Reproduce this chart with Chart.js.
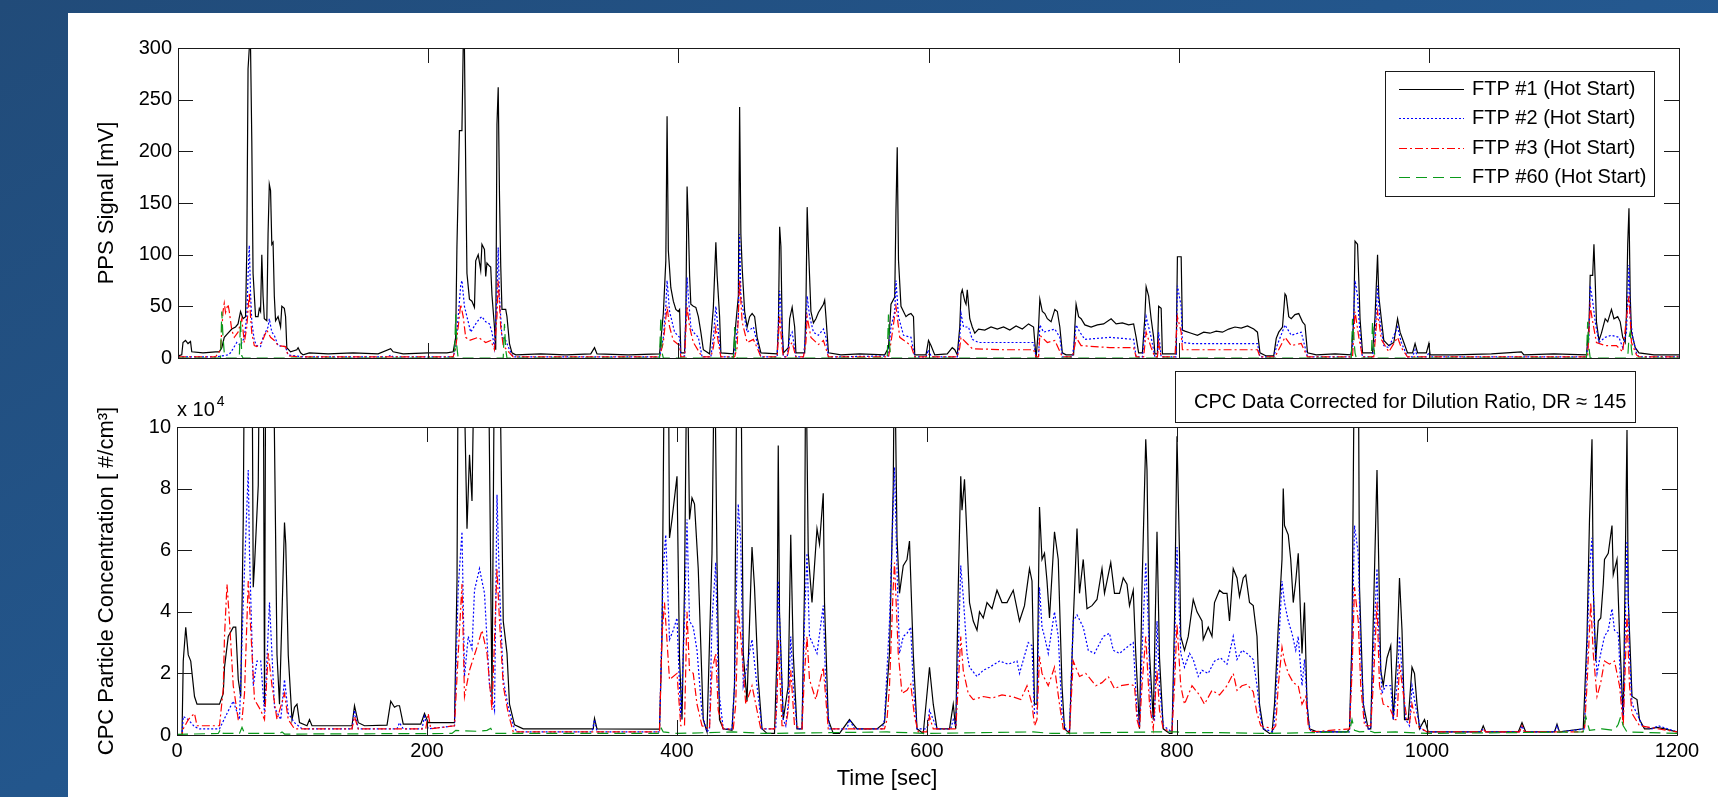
<!DOCTYPE html>
<html>
<head>
<meta charset="utf-8">
<script src="https://cdn.jsdelivr.net/npm/chart.js@4.4.1/dist/chart.umd.min.js"></script>
<style>
  html, body { margin: 0; padding: 0; }
  body {
    width: 1718px; height: 797px; overflow: hidden; position: relative;
    background: linear-gradient(150deg, #214b79 0%, #23568c 45%, #2a63a0 100%);
  }
  #panel { position: absolute; left: 68px; top: 13px; right: 0; bottom: 0; background: #fff; }
  canvas { position: absolute; left: 0; }
  #ppsChart { top: 0; }
  #cpcChart { top: 360px; }
</style>
</head>
<body>
<div id="panel"></div>
<canvas id="ppsChart" width="1718" height="380"></canvas>
<canvas id="cpcChart" width="1718" height="437"></canvas>
<script>
// tick values
const timeTicks = [0, 200, 400, 600, 800, 1000, 1200];
const ppsTicks = [0, 50, 100, 150, 200, 250, 300];
const cpcTicks = [0, 2, 4, 6, 8, 10];

const seriesLabels = ['FTP #1 (Hot Start)', 'FTP #2 (Hot Start)', 'FTP #3 (Hot Start)', 'FTP #60 (Hot Start)'];

// PPS signal [mV], pairs of [time s, value]
const ppsFtp1 = [[0,2],[3,3],[4,15],[6,17],[8,14],[10,16],[11,6],[20,5],[30,6],[33,6],[35,10],[37,20],[40,24],[43,28],[46,30],[48,33],[50,45],[52,38],[54,40],[55,105],[56,280],[57,300],[58,300],[59,210],[60,82],[62,40],[64,40],[65,48],[66,45],[67,100],[68,60],[69,38],[71,36],[72,120],[73,168],[74,162],[75,110],[76,112],[77,60],[78,36],[80,40],[82,30],[83,50],[85,48],[86,40],[87,10],[90,6],[95,8],[96,10],[98,5],
  [100,3],[105,5],[120,4],[140,5],[160,4],[170,9],[172,6],[180,4],[200,5],[215,5],[220,6],[222,20],[223,108],[225,220],[227,220],[228,300],[229,300],[230,185],[231,82],[233,57],[235,55],[237,49],[238,94],[240,100],[242,85],[243,110],[245,105],[246,79],[247,92],[249,89],[250,88],[251,61],[253,30],[254,8],[255,226],[256,262],[257,159],[258,90],[259,47],[262,47],[263,40],[265,14],[267,5],[270,3],
  [290,4],[310,3],[330,4],[333,10],[335,4],[360,3],[385,4],[388,43],[390,94],[391,234],[392,104],[394,68],[396,55],[398,47],[400,45],[401,47],[402,5],[405,5],[406,40],[407,166],[408,130],[409,80],[410,52],[412,50],[414,49],[416,40],[418,25],[420,8],[425,4],[428,49],[430,112],[431,80],[433,40],[434,5],[444,4],[446,34],[448,60],[449,243],[450,120],[451,88],[453,45],[455,30],[457,40],[459,43],[461,40],[463,20],[466,5],[479,4],[480,30],[481,127],[482,108],[483,30],[484,5],[488,10],[489,38],[491,49],[493,30],[494,5],[501,5],[502,49],[503,146],[504,108],[506,45],[508,34],[510,38],[512,44],[514,48],[516,52],[517,56],[518,40],[520,5],
  [530,3],[545,4],[565,3],[568,10],[570,52],[573,59],[574,143],[575,204],[576,95],[578,50],[580,45],[582,40],[584,42],[586,43],[588,40],[589,3],[598,3],[600,17],[602,12],[605,3],[615,4],[619,10],[621,8],[623,3],[625,30],[626,62],[627,66],[629,55],[630,52],[631,66],[633,38],[635,30],[637,24],[640,28],[645,27],[650,30],[655,28],[660,30],[665,27],[670,31],[675,28],[680,33],[684,30],[686,0],[688,30],[689,57],[691,45],[693,43],[695,38],[698,35],[701,47],[703,45],[705,30],[707,5],[710,3],[716,3],[717,30],[718,52],[720,40],[722,38],[725,32],[730,30],[735,32],[740,33],[746,38],[750,33],[755,34],[760,32],[764,33],[766,20],[768,5],[771,5],[773,40],[774,69],[776,60],[778,38],[780,20],[781,4],[783,4],[784,50],[786,48],[787,4],[798,4],[799,98],[802,98],[803,27],[805,26],[810,24],[815,22],[820,25],[825,24],[830,26],[835,25],[840,28],[845,30],[850,29],[855,31],[860,28],[863,25],[865,5],[870,2],[876,2],[878,19],[880,25],[883,30],[885,62],[886,60],[888,40],[890,38],[893,42],[896,43],[899,35],[901,32],[903,5],
  [910,3],[925,4],[938,3],[940,38],[941,113],[943,110],[944,76],[945,38],[947,5],[955,5],[957,40],[959,100],[960,60],[962,38],[964,17],[968,12],[972,15],[975,38],[977,25],[980,15],[983,5],[987,5],[989,14],[991,5],[998,5],[1000,14],[1001,3],
  [1020,3],[1050,4],[1074,6],[1076,3],[1100,4],[1126,3],[1128,30],[1129,80],[1131,80],[1132,110],[1133,75],[1134,35],[1136,17],[1138,24],[1141,38],[1143,35],[1146,47],[1148,38],[1151,40],[1153,35],[1155,20],[1157,15],[1158,43],[1159,110],[1160,145],[1161,60],[1162,25],[1165,10],[1168,5],[1180,3],[1200,3]];

const ppsFtp2 = [[0,1],[30,1],[40,3],[42,5],[47,15],[50,12],[53,20],[55,40],[56,80],[57,109],[58,62],[59,35],[61,17],[63,12],[66,11],[68,20],[72,30],[73,38],[75,25],[77,22],[80,12],[86,11],[88,3],[100,1],[168,1],[170,3],[172,1],[220,1],[222,10],[224,40],[226,70],[227,75],[229,50],[231,40],[234,25],[238,33],[241,38],[243,40],[246,35],[249,33],[251,25],[253,10],[255,60],[256,107],[257,60],[259,20],[262,17],[265,8],[268,1],
  [385,1],[388,20],[390,50],[391,75],[393,45],[394,40],[397,25],[401,20],[402,1],[405,2],[407,78],[408,60],[410,30],[412,25],[416,20],[419,1],[426,1],[428,20],[430,50],[432,25],[434,1],[444,1],[446,15],[448,40],[449,120],[450,60],[452,45],[455,25],[460,30],[463,15],[466,1],[479,1],[481,65],[482,50],[484,1],[487,1],[489,20],[491,25],[494,1],[500,1],[502,25],[503,60],[505,40],[508,25],[512,22],[516,28],[518,20],[520,1],
  [568,2],[570,30],[573,45],[574,75],[576,40],[580,22],[586,20],[589,1],[598,1],[600,8],[602,2],[604,1],[623,1],[625,20],[626,43],[628,30],[632,30],[635,18],[640,15],[660,15],[684,15],[686,1],[688,1],[689,32],[692,25],[701,28],[705,20],[707,1],[715,1],[717,20],[718,32],[721,25],[725,18],[745,20],[764,18],[766,1],[771,1],[773,25],[774,40],[778,20],[781,1],[783,1],[784,25],[786,1],[798,1],[799,70],[802,50],[803,15],[810,14],[840,14],[863,14],[865,1],[876,1],[878,10],[885,32],[890,22],[898,25],[903,1],
  [937,1],[939,10],[941,75],[943,60],[944,40],[946,8],[947,1],[955,1],[957,20],[959,70],[961,35],[964,12],[968,10],[975,30],[978,15],[983,1],[987,1],[989,8],[991,1],[998,1],[1000,5],[1001,1],[1126,1],[1128,20],[1129,70],[1131,55],[1133,35],[1136,15],[1141,20],[1146,22],[1152,20],[1155,10],[1158,25],[1160,90],[1161,40],[1163,20],[1166,5],[1168,1],[1200,1]];

const ppsFtp3 = [[0,1],[30,1],[34,8],[36,45],[37,53],[38,44],[40,52],[41,45],[43,27],[45,20],[48,25],[51,38],[53,15],[55,30],[57,63],[58,40],[59,24],[61,12],[63,11],[67,15],[71,27],[74,20],[77,17],[80,12],[86,11],[88,2],[100,1],[220,1],[222,10],[224,30],[226,52],[228,40],[230,20],[233,17],[240,20],[246,15],[250,17],[253,8],[255,40],[256,75],[258,30],[260,12],[265,5],[268,1],
  [385,1],[388,15],[391,50],[393,30],[396,17],[401,12],[402,1],[405,1],[407,50],[409,30],[412,15],[419,1],[426,1],[428,10],[430,30],[432,15],[434,1],[445,1],[447,10],[449,75],[451,35],[455,15],[460,18],[463,10],[466,1],[479,1],[481,40],[483,10],[484,1],[487,1],[489,12],[491,15],[494,1],[500,1],[502,15],[503,40],[506,20],[512,13],[516,17],[520,1],
  [568,1],[570,15],[574,50],[577,20],[586,12],[589,1],[598,1],[600,4],[602,1],[623,1],[625,10],[626,20],[630,15],[635,9],[660,8],[684,8],[686,1],[688,1],[689,22],[695,15],[701,17],[707,1],[715,1],[717,12],[718,20],[722,12],[745,10],[764,10],[766,1],[772,1],[774,25],[778,10],[781,1],[783,1],[784,15],[786,1],[797,1],[799,40],[802,25],[803,8],[840,8],[863,8],[865,1],[877,1],[885,20],[890,12],[898,14],[903,1],
  [939,1],[941,45],[944,20],[947,1],[956,1],[959,45],[962,18],[968,6],[975,20],[978,10],[983,1],[1127,1],[1129,50],[1131,35],[1134,15],[1141,12],[1150,12],[1155,6],[1160,60],[1162,15],[1166,3],[1168,1],[1200,1]];

const ppsFtp60 = [[0,0],[34,0],[35,45],[36,20],[37,5],[38,0],[49,0],[50,36],[51,2],[52,0],[221,0],[222,42],[223,10],[224,0],[260,0],[261,33],[262,8],[263,0],[385,0],[386,40],[387,5],[388,0],[444,0],[445,30],[446,3],[447,0],[567,0],[568,42],[569,10],[570,0],[938,0],[939,38],[940,20],[941,5],[942,0],[954,0],[955,35],[956,10],[957,0],[1126,0],[1127,35],[1128,10],[1129,0],[1159,0],[1160,20],[1161,25],[1162,8],[1163,0],[1200,0]];

// CPC concentration in units of 10^4 #/cm3 (values above 10 run off the top)
const cpcFtp1 = [[0,0],[4,0],[5,2.4],[7,3.5],[9,2.6],[11,2.4],[14,1.25],[16,1.0],[25,1.0],[34,1.0],[37,1.35],[38,2.2],[41,3.2],[45,3.5],[47,3.5],[49,1.8],[51,1.25],[53,7],[54,13],[60,13],[61,4.8],[62,5.5],[65,8.1],[66,13],[69,13],[70,1.0],[71,13],[77,13],[80,2.6],[82,1.0],[86,6.9],[87,6.2],[89,2.6],[92,0.5],[94,0.9],[96,1.0],[98,0.4],[104,0.3],[106,0.5],[108,0.3],[140,0.3],[142,0.95],[145,0.4],[150,0.3],[168,0.32],[171,1.1],[174,0.9],[176,0.95],[178,0.95],[181,0.35],[195,0.35],[198,0.7],[201,0.4],[222,0.4],[224,5],[225,13],[229,13],[232,6.7],[234,9.1],[236,7.6],[238,13],[249,13],[252,1.15],[254,13],[258,13],[261,3.7],[264,2.65],[266,1.0],[270,0.33],[277,0.2],[333,0.2],[334,0.54],[336,0.2],
  [386,0.19],[388,3.2],[390,13],[393,13],[394,6.4],[396,7],[400,8.4],[402,2.5],[404,0.5],[406,4.8],[408,13],[410,7],[412,7.7],[414,7.5],[417,5.4],[421,0.5],[424,0.1],[428,5.9],[430,13],[432,5.6],[434,0.5],[437,0.2],[444,0.15],[446,1.6],[448,13],[451,13],[453,2.65],[456,1.1],[460,6.1],[462,4.8],[465,1.8],[468,0.2],[472,0.05],[478,0.05],[480,2.65],[481,9.4],[482,4.0],[485,0.5],[489,1.6],[491,6.5],[493,2.65],[496,0.2],[500,0.2],[502,4.8],[503,13],[505,5.9],[508,4.3],[512,6.7],[514,6.2],[517,7.85],[518,4.3],[521,0.5],[525,0.05],[530,0.05],[538,0.5],[544,0.2],[560,0.2],[566,0.4],
  [570,2.65],[573,8.1],[574,13],[576,6.4],[578,4.6],[581,5.5],[584,5.7],[586,6.3],[589,2.65],[592,0.2],[597,0.05],[602,2.2],[605,1.0],[608,0.2],[618,0.2],[621,1.0],[623,0.2],[625,4.8],[627,8.4],[628,7.3],[630,8.3],[632,6.4],[634,4.3],[637,3.7],[640,3.4],[642,4.0],[645,3.8],[648,4.3],[652,4.1],[656,4.7],[660,4.3],[664,4.3],[669,4.7],[674,3.7],[678,4.2],[682,5.4],[684,5.0],[686,1.0],[688,1.0],[690,7.4],[692,5.7],[694,5.9],[696,5.0],[698,3.8],[702,6.6],[705,5.7],[708,1.6],[710,0.2],[714,0.05],[717,3.7],[720,6.7],[722,4.6],[725,5.7],[728,4.1],[732,4.2],[736,4.4],[740,5.4],[742,4.6],[747,5.6],[750,4.6],[754,4.6],[757,5.1],[760,4.9],[762,4.2],[765,4.7],[767,2.65],[770,0.2],[772,4.8],[775,9.6],[776,8.6],[778,2.65],[781,0.5],[784,6.6],[786,2.5],[789,0.2],[794,0.05],[796,0.05],
  [798,3.7],[800,9.7],[802,5.9],[803,3.2],[806,2.75],[809,3.2],[813,4.4],[816,4.0],[820,3.7],[821,3.1],[825,3.5],[828,3.2],[830,4.3],[834,4.7],[837,4.6],[840,4.6],[842,3.7],[845,5.4],[848,5.1],[850,4.5],[853,5.1],[855,5.2],[858,4.3],[861,4.2],[864,3.2],[866,1.0],[869,0.2],[874,0.05],[876,0.05],[878,1.0],[881,3.5],[884,5.7],[885,8.0],[886,6.8],[889,6.5],[891,5.7],[893,4.3],[895,5.0],[897,5.9],[900,2.65],[902,4.3],[904,1.0],[906,0.2],[912,0.1],[936,0.1],[938,0.2],[940,3.2],[942,13],[945,13],[946,4.8],[949,1.0],[953,0.2],[955,0.2],[957,3.7],[960,8.6],[961,6.4],[963,2.1],[965,1.6],[968,2.5],[971,2.9],[973,0.5],[976,2.65],[978,5.1],[980,3.4],[982,0.5],[985,0.5],[988,2.2],[990,2.0],[992,1.0],[994,0.2],[998,0.5],[1001,0.1],
  [1043,0.1],[1045,0.3],[1047,0.1],[1073,0.1],[1076,0.4],[1079,0.1],[1102,0.1],[1104,0.35],[1106,0.1],[1125,0.2],[1128,3.2],[1130,7],[1132,9.6],[1133,4.8],[1135,2.4],[1137,3.7],[1139,3.8],[1141,4.9],[1142,5.7],[1145,5.9],[1148,6.8],[1149,5.2],[1152,5.7],[1154,3.3],[1157,0.5],[1160,9.9],[1161,4.4],[1164,1.25],[1168,1.15],[1170,0.5],[1174,0.2],[1178,0.2],[1184,0.25],[1190,0.2],[1200,0.1]];

const cpcFtp2 = [[0,0],[4,0],[5,0.6],[9,0.5],[14,0.27],[18,0.2],[34,0.2],[40,0.7],[45,1.1],[50,0.5],[53,4.3],[57,8.6],[58,5.9],[61,1.6],[64,2.4],[67,2.4],[70,0.7],[74,4.3],[76,2.6],[78,0.9],[83,0.5],[86,1.8],[89,0.7],[94,0.4],[100,0.2],[140,0.2],[142,0.8],[145,0.2],[176,0.2],[178,0.4],[181,0.2],[196,0.2],[198,0.6],[201,0.2],[222,0.3],[225,4.8],[228,6.6],[230,1.9],[233,3.2],[236,2.8],[238,4.7],[242,5.4],[246,4.6],[250,1.6],[254,0.8],[256,7.8],[258,4.8],[261,1.8],[265,0.9],[269,0.3],[272,0.1],[332,0.1],[334,0.5],[336,0.1],
  [386,0.1],[389,5.4],[391,6.5],[394,3.1],[397,3.4],[400,3.8],[403,0.5],[406,3.7],[408,7],[410,3.7],[413,3.5],[416,2.75],[420,0.7],[424,0.1],[426,0.2],[428,3.7],[431,5.6],[433,1.6],[437,0.2],[444,0.2],[446,1.6],[449,7.5],[451,6.3],[453,1.6],[460,3.1],[464,1.6],[468,0.2],[479,0.2],[480,1.6],[481,5.0],[483,2.65],[485,0.5],[487,0.3],[489,1.0],[491,3.2],[493,1.6],[496,0.2],[500,0.2],[502,3.7],[504,5.9],[506,3.2],[512,2.65],[517,4.2],[519,1.6],[522,0.2],[536,0.2],[538,0.5],[542,0.2],[564,0.2],[566,0.5],
  [570,3.7],[573,7.5],[574,8.7],[576,5.4],[578,2.65],[581,3.2],[584,3.3],[587,3.5],[589,1.6],[592,0.2],[600,0.2],[602,0.8],[605,0.5],[608,0.2],[619,0.2],[621,0.5],[623,0.3],[625,2.65],[627,5.5],[629,4.5],[632,2.65],[634,2.2],[640,1.9],[645,2.1],[650,2.2],[658,2.4],[665,2.3],[672,2.4],[674,2.0],[681,3.0],[684,2.9],[686,0.7],[688,0.7],[690,4.8],[692,3.5],[694,3.2],[697,2.65],[702,4.0],[705,3.2],[708,0.7],[711,0.2],[714,0.1],[717,3.7],[720,3.9],[725,3.5],[729,2.75],[734,2.65],[741,3.2],[746,3.3],[749,2.75],[754,2.65],[760,2.85],[765,3.0],[768,0.7],[770,0.3],[772,2.65],[775,5.6],[777,3.7],[779,0.7],[782,0.5],[784,3.7],[786,1.6],[789,0.3],[796,0.1],
  [798,2.65],[800,6.1],[803,2.65],[806,2.2],[810,2.65],[813,2.45],[817,1.9],[820,2.1],[825,2.0],[830,2.4],[835,2.5],[840,2.3],[845,3.2],[848,2.45],[852,2.75],[856,2.65],[861,2.45],[864,1.6],[867,0.5],[869,0.2],[877,0.1],[878,0.5],[881,2.65],[884,5.0],[886,4.3],[889,3.7],[892,3.3],[895,2.75],[897,3.2],[900,1.6],[902,2.45],[905,0.5],[907,0.1],[938,0.1],[940,2.65],[942,6.8],[945,5.9],[947,2.65],[950,0.5],[953,0.2],[955,0.2],[957,2.65],[960,5.4],[961,3.7],[964,1.35],[967,1.6],[971,1.6],[973,0.5],[976,1.6],[978,3.2],[980,2.1],[983,0.5],[986,0.3],[988,1.6],[992,0.7],[995,0.2],[1000,0.1],
  [1043,0.1],[1045,0.2],[1047,0.1],[1074,0.1],[1076,0.3],[1078,0.1],[1102,0.1],[1104,0.3],[1106,0.1],[1126,0.2],[1128,2.65],[1130,5.4],[1132,6.4],[1134,3.3],[1136,2.0],[1139,2.65],[1142,3.2],[1145,3.4],[1148,4.1],[1150,3.4],[1153,3.3],[1155,1.6],[1157,0.5],[1160,6.3],[1162,2.65],[1164,1.0],[1168,0.7],[1172,0.3],[1180,0.2],[1185,0.3],[1200,0.1]];

const cpcFtp3 = [[0,0],[4,0],[5,0.2],[9,0.5],[14,0.7],[16,0.3],[34,0.3],[37,1.5],[38,3.2],[40,4.9],[42,3.7],[45,1.6],[49,0.5],[52,0.5],[54,1.35],[57,5.0],[60,2.65],[62,1.15],[67,0.8],[70,0.5],[73,2.65],[76,1.6],[80,0.5],[86,1.35],[89,0.5],[94,0.2],[140,0.2],[142,0.6],[145,0.2],[199,0.2],[201,0.7],[203,0.2],[222,0.3],[225,2.65],[228,4.9],[230,1.25],[234,2.1],[240,2.85],[244,3.4],[248,2.65],[252,0.8],[256,5.4],[258,3.7],[261,1.6],[265,0.7],[269,0.1],
  [386,0.1],[388,3.2],[390,4.3],[394,1.8],[400,2.0],[403,0.3],[406,0.3],[408,4.0],[410,2.1],[413,2.0],[416,1.0],[420,0.3],[426,0.2],[428,2.1],[431,2.65],[433,0.8],[437,0.2],[445,0.2],[447,1.0],[449,4.1],[451,3.2],[455,1.0],[460,1.6],[463,1.0],[467,0.2],[478,0.2],[480,1.0],[481,3.1],[484,0.3],[487,0.3],[489,0.8],[491,2.1],[494,0.3],[500,0.2],[502,2.0],[504,3.2],[506,1.8],[511,1.15],[517,2.2],[521,0.2],
  [566,0.2],[568,0.5],[570,1.6],[573,4.8],[574,5.6],[577,2.65],[580,1.35],[584,1.45],[587,1.65],[590,0.6],[593,0.1],[600,0.1],[602,0.6],[605,0.2],[623,0.2],[625,1.6],[627,3.2],[629,2.1],[633,1.35],[637,1.15],[645,1.25],[652,1.2],[660,1.3],[668,1.25],[675,1.15],[680,1.6],[684,1.0],[686,0.3],[688,0.5],[690,2.55],[692,2.0],[697,1.6],[702,2.2],[706,1.0],[709,0.2],[714,0.1],[717,2.4],[722,1.9],[727,2.0],[735,1.6],[740,1.7],[745,1.9],[750,1.5],[755,1.6],[762,1.65],[766,1.6],[768,0.5],[770,0.2],[772,1.6],[775,3.2],[778,1.0],[781,0.2],[784,2.1],[786,0.8],[789,0.2],[796,0.1],
  [798,1.6],[800,3.6],[803,1.6],[806,1.0],[812,1.6],[818,1.3],[822,1.0],[828,1.45],[834,1.3],[840,1.6],[845,2.0],[848,1.45],[852,1.6],[856,1.65],[861,1.4],[864,0.7],[867,0.3],[877,0.2],[879,0.3],[881,1.6],[884,2.85],[886,2.4],[889,2.0],[893,1.7],[897,1.6],[900,1.0],[903,1.25],[905,0.3],[907,0.1],[938,0.2],[940,2.0],[942,4.8],[945,3.7],[947,1.6],[950,0.3],[955,0.3],[957,1.6],[960,4.3],[962,1.6],[965,1.0],[970,0.9],[974,0.5],[976,0.5],[978,2.3],[981,1.35],[984,0.5],[986,0.4],[988,1.0],[992,0.3],[1000,0.1],
  [1043,0.1],[1045,0.2],[1047,0.1],[1074,0.1],[1076,0.3],[1078,0.1],[1124,0.1],[1126,0.2],[1128,1.6],[1131,4.3],[1133,2.65],[1136,1.25],[1139,1.7],[1142,2.4],[1146,2.3],[1150,2.4],[1154,1.6],[1157,0.3],[1160,3.9],[1162,1.6],[1164,0.7],[1170,0.3],[1200,0.1]];

const cpcFtp60 = [[0,0.02],[33,0.05],[35,0.2],[37,0.05],[50,0.05],[52,0.25],[54,0.05],[66,0.05],[68,0.12],[70,0.05],[82,0.05],[84,0.1],[86,0.03],[220,0.05],[223,0.15],[240,0.12],[248,0.15],[251,0.22],[253,0.05],[385,0.05],[387,0.25],[389,0.1],[400,0.05],[445,0.1],[470,0.05],[568,0.1],[600,0.05],[685,0.1],[700,0.05],[780,0.1],[800,0.1],[805,0.08],[830,0.08],[870,0.05],[938,0.1],[940,0.5],[942,0.15],[946,0.1],[955,0.12],[958,0.08],[975,0.1],[1000,0.05],[1125,0.1],[1127,0.6],[1130,0.15],[1140,0.2],[1150,0.15],[1153,0.35],[1155,0.6],[1157,0.3],[1160,0.1],[1200,0.05]];

// styles
const FONT = "'Liberation Sans', Arial, Helvetica, sans-serif";
const seriesColors = ['#000000', '#0000ff', '#ff0000', '#0a9a1a'];
const seriesDash = [[], [2, 2], [8, 3, 2, 3], [11, 6]];
const axisColor = '#1a1a1a';

Chart.defaults.font.family = FONT;
Chart.defaults.font.size = 20;
Chart.defaults.color = '#000';

function buildDatasets(seriesList) {
  return seriesList.map((pairs, i) => ({
    label: seriesLabels[i],
    data: pairs.map(([x, y]) => ({ x, y })),
    borderColor: seriesColors[i],
    borderDash: seriesDash[i],
    borderWidth: 1.2,
    pointRadius: 0,
    fill: false,
    tension: 0,
    order: seriesList.length - i
  }));
}

function fixedTicks(values) {
  return scale => { scale.ticks = values.map(value => ({ value })); };
}

const plainLabel = v => String(v);

// MATLAB style box with inward tick marks on all four sides
const frame = {
  id: 'frame',
  afterDatasetsDraw(chart) {
    const { ctx, chartArea: a, scales: { x, y } } = chart;
    const len = 15;
    ctx.save();
    ctx.strokeStyle = axisColor;
    ctx.lineWidth = 1;
    ctx.setLineDash([]);
    ctx.beginPath();
    x.ticks.forEach(t => {
      const px = Math.round(x.getPixelForValue(t.value)) + 0.5;
      ctx.moveTo(px, a.bottom); ctx.lineTo(px, a.bottom - len);
      ctx.moveTo(px, a.top); ctx.lineTo(px, a.top + len);
    });
    y.ticks.forEach(t => {
      const py = Math.round(y.getPixelForValue(t.value)) + 0.5;
      ctx.moveTo(a.left, py); ctx.lineTo(a.left + len, py);
      ctx.moveTo(a.right, py); ctx.lineTo(a.right - len, py);
    });
    ctx.stroke();
    ctx.strokeRect(Math.round(a.left) + 0.5, Math.round(a.top) + 0.5, Math.round(a.width), Math.round(a.height));
    ctx.restore();
  }
};

const legendBox = {
  id: 'legendBox',
  afterDraw(chart) {
    const { ctx, chartArea: a } = chart;
    const left = a.right - 294, top = a.top + 23, w = 269, h = 125;
    ctx.save();
    ctx.fillStyle = '#fff';
    ctx.fillRect(left, top, w, h);
    ctx.strokeStyle = axisColor;
    ctx.lineWidth = 1;
    ctx.strokeRect(left + 0.5, top + 0.5, w, h);
    ctx.font = '20px ' + FONT;
    ctx.textBaseline = 'middle';
    ctx.textAlign = 'left';
    chart.data.datasets.forEach((ds, i) => {
      const yy = Math.round(top + 18 + i * 29.3) + 0.5;
      ctx.strokeStyle = ds.borderColor;
      ctx.setLineDash(ds.borderDash);
      ctx.lineWidth = 1.2;
      ctx.beginPath();
      ctx.moveTo(left + 14, yy);
      ctx.lineTo(left + 79, yy);
      ctx.stroke();
      ctx.fillStyle = '#000';
      ctx.fillText(ds.label, left + 87, yy);
    });
    ctx.restore();
  }
};

const cpcNotes = {
  id: 'cpcNotes',
  afterDraw(chart) {
    const { ctx, chartArea: a, scales: { x } } = chart;
    ctx.save();
    // dilution ratio note
    const left = a.right - 502, top = a.top - 56, w = 460, h = 51;
    ctx.fillStyle = '#fff';
    ctx.fillRect(left, top, w, h);
    ctx.strokeStyle = axisColor;
    ctx.lineWidth = 1;
    ctx.strokeRect(left + 0.5, top + 0.5, w, h);
    ctx.fillStyle = '#000';
    ctx.font = '20px ' + FONT;
    ctx.textAlign = 'left';
    ctx.textBaseline = 'alphabetic';
    ctx.fillText('CPC Data Corrected for Dilution Ratio, DR \u2248 145', left + 19, top + 37);
    // exponent label above the axis
    ctx.fillText('x 10', a.left, a.top - 11);
    const w10 = ctx.measureText('x 10').width;
    ctx.font = '14px ' + FONT;
    ctx.fillText('4', a.left + w10 + 2, a.top - 21);
    // x axis title
    ctx.font = '22px ' + FONT;
    ctx.textAlign = 'center';
    ctx.textBaseline = 'middle';
    ctx.fillText('Time [sec]', x.getPixelForValue(568), a.bottom + 44);
    ctx.restore();
  }
};

new Chart(document.getElementById('ppsChart'), {
  type: 'line',
  data: { datasets: buildDatasets([ppsFtp1, ppsFtp2, ppsFtp3, ppsFtp60]) },
  options: {
    responsive: false,
    animation: false,
    layout: { padding: { top: 48, right: 39, bottom: 22, left: 0 } },
    plugins: { legend: { display: false }, tooltip: { enabled: false } },
    scales: {
      x: {
        type: 'linear', min: 0, max: 1200,
        afterBuildTicks: fixedTicks(timeTicks),
        ticks: { display: false },
        grid: { display: false, drawTicks: false },
        border: { display: false },
        afterFit: s => { s.height = 0; }
      },
      y: {
        min: 0, max: 300,
        afterBuildTicks: fixedTicks(ppsTicks),
        ticks: { padding: 6, color: '#000', callback: plainLabel },
        grid: { display: false, drawTicks: false },
        border: { display: false },
        title: { display: true, text: 'PPS Signal [mV]', font: { size: 22 }, padding: { top: 94, bottom: 0 } },
        afterFit: s => { s.width = 178; }
      }
    }
  },
  plugins: [frame, legendBox]
});

new Chart(document.getElementById('cpcChart'), {
  type: 'line',
  data: { datasets: buildDatasets([cpcFtp1, cpcFtp2, cpcFtp3, cpcFtp60]) },
  options: {
    responsive: false,
    animation: false,
    layout: { padding: { top: 67, right: 41, bottom: 0, left: 0 } },
    plugins: { legend: { display: false }, tooltip: { enabled: false } },
    scales: {
      x: {
        type: 'linear', min: 0, max: 1200,
        afterBuildTicks: fixedTicks(timeTicks),
        ticks: { padding: 4, color: '#000', maxRotation: 0, callback: plainLabel },
        grid: { display: false, drawTicks: false },
        border: { display: false },
        afterFit: s => { s.height = 62; }
      },
      y: {
        min: 0, max: 10,
        afterBuildTicks: fixedTicks(cpcTicks),
        ticks: { padding: 6, color: '#000', callback: plainLabel },
        grid: { display: false, drawTicks: false },
        border: { display: false },
        title: { display: true, text: 'CPC Particle Concentration [ #/cm\u00b3]', font: { size: 22 }, padding: { top: 94, bottom: 0 } },
        afterFit: s => { s.width = 177; }
      }
    }
  },
  plugins: [frame, cpcNotes]
});
</script>
</body>
</html>
